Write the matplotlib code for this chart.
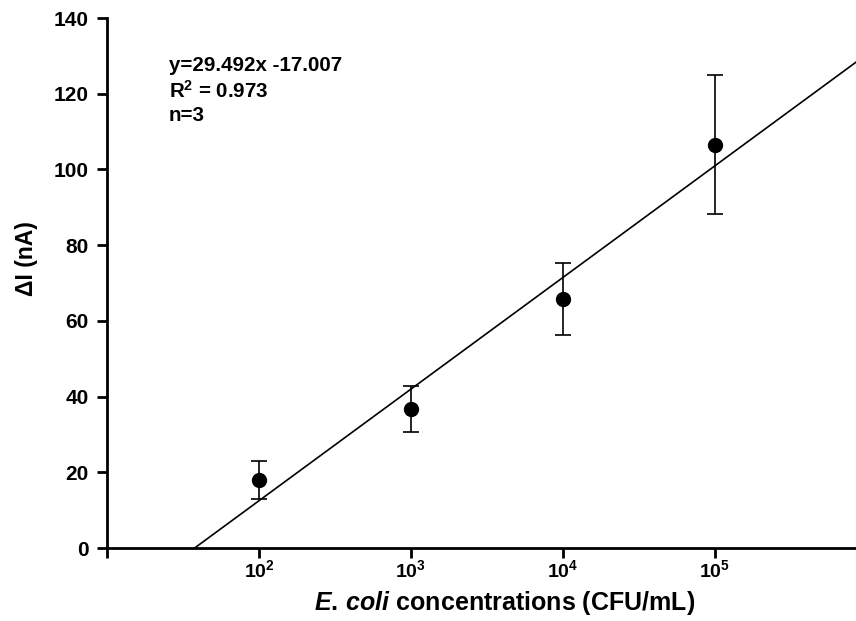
import numpy as np
import matplotlib.pyplot as plt

plt.rcParams['font.family'] = ['Liberation Sans', 'DejaVu Sans']
plt.rcParams['font.weight'] = 'bold'
plt.rcParams['mathtext.fontset'] = 'custom'
plt.rcParams['mathtext.rm'] = 'Liberation Sans:bold'
plt.rcParams['mathtext.it'] = 'Liberation Sans:italic:bold'
plt.rcParams['mathtext.bf'] = 'Liberation Sans:bold'

# data
conc = [1e2, 1e3, 1e4, 1e5]
delta_i = [18.0, 36.7, 65.8, 106.5]
err = [5.1, 6.1, 9.5, 18.4]

# fit reported on the chart, x = log10(C) - 1
slope = 29.492
intercept = -17.007

x_ticks = [1e1, 1e2, 1e3, 1e4, 1e5]
x_tick_labels = ['', r'$10^{2}$', r'$10^{3}$', r'$10^{4}$', r'$10^{5}$']
y_ticks = [0, 20, 40, 60, 80, 100, 120, 140]

fig = plt.figure(figsize=(8.56, 6.21), dpi=100)
ax = fig.add_axes([107 / 856, 1 - 548 / 621, 749 / 856, 530 / 621])

x_lo, x_hi = 1e1, 10 ** 5.928
ax.set_xscale('log')
ax.set_xlim(x_lo, x_hi)
ax.set_ylim(0, 140)

# regression line from y = 0 up to the right edge
lx0 = 1 - intercept / slope
lx = np.array([lx0, np.log10(x_hi)])
ax.plot(10 ** lx, slope * (lx - 1) + intercept, color='black', lw=1.2, clip_on=False)

ax.errorbar(conc, delta_i, yerr=err, fmt='o', color='black', ms=10,
            ecolor='black', elinewidth=1.2, capsize=6, capthick=1.2, zorder=3)

ax.text(10 ** 1.405, 129.9,
        'y=29.492x -17.007\n' + r'R$^2$' + ' = 0.973\nn=3',
        fontsize=14.8, fontweight='bold', va='top', ha='left', linespacing=1.28)

ax.set_xticks(x_ticks)
ax.set_xticklabels(x_tick_labels)
ax.xaxis.set_minor_locator(plt.NullLocator())
ax.set_yticks(y_ticks)

for s in ['top', 'right']:
    ax.spines[s].set_visible(False)
for s in ['left', 'bottom']:
    ax.spines[s].set_linewidth(2)

ax.tick_params(direction='out', length=7, width=2)
ax.tick_params(axis='y', labelsize=15, pad=6)
ax.tick_params(axis='x', labelsize=14, pad=1)

ax.set_xlabel(r'$\mathit{E.\,coli}$ concentrations (CFU/mL)', fontsize=18,
              fontweight='bold')
ax.xaxis.set_label_coords(0.531, -0.078)
ax.set_ylabel('ΔI (nA)', fontsize=16.5, fontweight='bold')
ax.yaxis.set_label_coords(-0.092, 0.547)

fig.savefig('out.png', dpi=100)
